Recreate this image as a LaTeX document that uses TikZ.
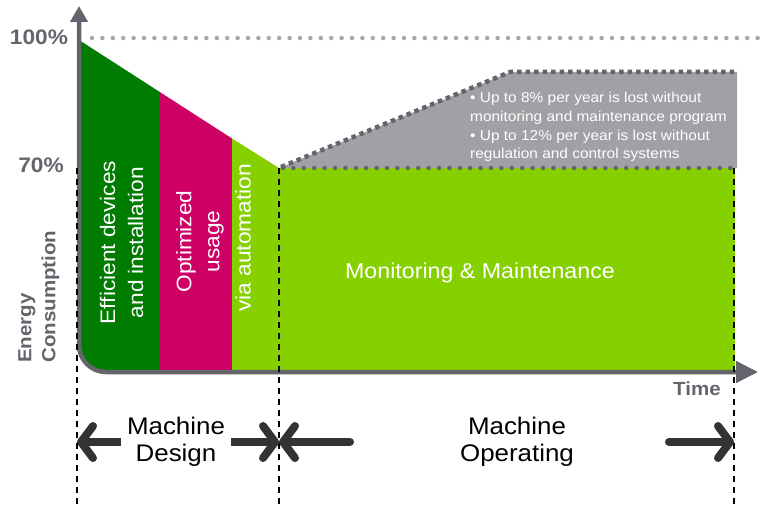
\documentclass[tikz,border=0pt]{standalone}
\usepackage{fontspec}
\setmainfont{Liberation Sans}[FakeStretch=1.08]
\definecolor{effgreen}{RGB}{0,125,0}
\definecolor{optmagenta}{RGB}{206,0,102}
\definecolor{autogreen}{RGB}{134,208,0}
\definecolor{lossgray}{RGB}{160,160,165}
\definecolor{axisgray}{RGB}{100,100,108}
\definecolor{dotgray}{RGB}{168,168,172}
\definecolor{arrowdark}{RGB}{50,52,52}
\usetikzlibrary{arrows.meta,positioning}

\begin{document}
\begin{tikzpicture}[x=1pt,y=-1pt,
    every node/.style={inner sep=0pt},
    axislabel/.style={text=axisgray,font=\bfseries\fontsize{21}{24}\selectfont},
    bartext/.style={text=white,rotate=90,align=center,
                    font=\fontsize{21}{28}\selectfont},
    phasetext/.style={align=center,inner xsep=6pt,
                      font=\fontsize{24}{27}\selectfont},
    phasearrow/.style={draw=arrowdark,line width=8pt,
                       -{Straight Barb[round,length=12pt,width=32pt]}},
    boundary/.style={black,line width=1.6pt,dash pattern=on 6pt off 5pt},
    rounddots/.style={line width=4.5pt,line cap=round,
                      dash pattern=on 0pt off 10.4pt}]
  \useasboundingbox (0,0) rectangle (760,508);
  %% phase boundaries
  \coordinate (bound1) at (77,168);
  \coordinate (bound2) at (279,168);
  \coordinate (bound3) at (734,168);
  %% savings areas, clipped to the rounded axis corner
  \begin{scope}
    \clip[rounded corners=27pt] (79,0) rectangle (800,372);
    \fill[effgreen] (79,40) -- (159,91.5) -- (159,372) -- (79,372) -- cycle;
    \fill[optmagenta] (159,91.5) -- (232,138.5) -- (232,372) -- (159,372) -- cycle;
    \fill[autogreen] (232,138.5) -- (279,168) -- (279,372) -- (232,372) -- cycle;
    \fill[autogreen] (279,168) rectangle (735,372);
  \end{scope}
  %% losses
  \fill[lossgray] (bound2) -- (510,72) -- (737,72) -- (737,168) -- cycle;
  \draw[axisgray,line width=4.5pt,dash pattern=on 4.5pt off 4pt]
    (281,167) -- (510,72) -- (737,72);
  \draw[axisgray,rounddots] (283,168) -- (737,168);
  \draw[dotgray,rounddots] (92,38) -- (760,38);
  %% axes
  \draw[axisgray,line width=4.5pt,rounded corners=27pt,
        {Triangle[length=16pt,width=17pt]}-{Triangle[length=22pt,width=21pt]}]
    (79,6) -- (79,372) -- (758,372);
  %% boundaries
  \foreach \b in {bound1,bound2,bound3}
    \draw[boundary] (\b) -- (\b |- 0,508);
  %% labels
  \node[axislabel] (full) at (39,37) {100\%};
  \node[axislabel] (seventy) at (41,165) {70\%};
  \node[axislabel,font=\bfseries\fontsize{19}{24}\selectfont,
        rotate=90,align=left,anchor=north west] (energy) at (18,363)
    {Energy\\Consumption};
  \node[axislabel,font=\bfseries\fontsize{19}{22}\selectfont] (time)
    at (697,389) {Time};
  \node[bartext] (efficient) at (121.5,242.5) {Efficient devices\\and installation};
  \node[bartext] (optimized) at (200,241.5) {Optimized\\usage};
  \node[bartext] (automation) at (243,238) {via automation};
  \node[text=white,font=\fontsize{21.5}{24}\selectfont,anchor=base]
    (monitoring) at (480,278) {Monitoring \& Maintenance};
  \node[text=white,align=left,anchor=north west,
        font=\fontsize{14.3}{18.8}\selectfont] (losses) at (470,92)
    {• Up to 8\% per year is lost without\\
     monitoring and maintenance program\\
     • Up to 12\% per year is lost without\\
     regulation and control systems};
  %% phases
  \node[phasetext] (design) at (176,442) {Machine\\Design};
  \node[phasetext] (operating) at (517,442) {Machine\\Operating};
  \coordinate (opleft) at (350,442);
  \coordinate (opright) at (669,442);
  \draw[phasearrow] (design.west) -- (design.west -| bound1);
  \draw[phasearrow] (design.east) -- (design.east -| bound2);
  \draw[phasearrow,line cap=round] (opleft) -- (opleft -| bound2);
  \draw[phasearrow,line cap=round] (opright) -- (opright -| bound3);
\end{tikzpicture}
\end{document}
